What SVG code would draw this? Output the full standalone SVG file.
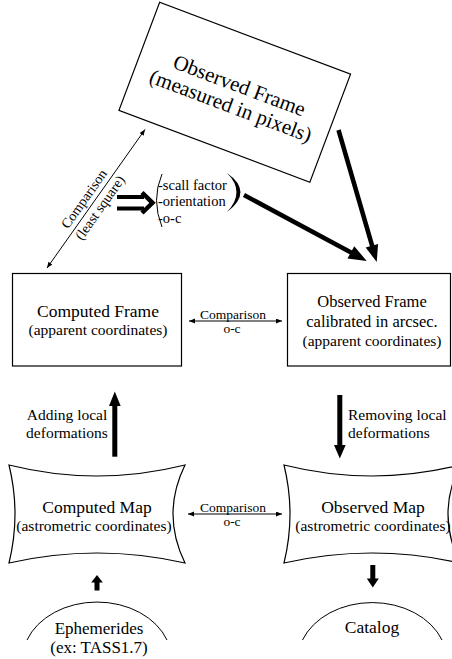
<svg xmlns="http://www.w3.org/2000/svg" width="452" height="659" viewBox="0 0 452 659" font-family="'Liberation Serif', 'DejaVu Serif', 'Times New Roman', serif">
<style>
text{font-family:'Liberation Serif','DejaVu Serif','Times New Roman',serif;fill:#000}
.t{font-size:17.5px;text-anchor:middle}
.s{font-size:15.5px;text-anchor:middle}
.c{font-size:13.5px;text-anchor:middle}
.b{font-size:14.5px}
.box{fill:#fff;stroke:#000;stroke-width:1.2}
.thin{stroke:#000;stroke-width:1;fill:none}
.thick{stroke:#000;stroke-width:4.5;fill:none}
.head{fill:#000}
</style>
<defs>
<marker id="ah" markerUnits="userSpaceOnUse" markerWidth="7" markerHeight="6" refX="6" refY="2.5" orient="auto-start-reverse">
<path d="M0,0 L6,2.5 L0,5 z" fill="#000"/>
</marker>
</defs>
<g id="observed-frame-pixels" transform="translate(234.75,92.25) rotate(20.65)">
<rect class="box" x="-102" y="-57.75" width="204" height="115.5"/>
<text x="2" y="-1" style="font-size:21px;text-anchor:middle">Observed Frame</text>
<text x="1" y="21" style="font-size:21px;text-anchor:middle">(measured in pixels)</text>
</g>
<g id="computed-frame">
<rect class="box" x="12.5" y="273.5" width="169" height="92.5"/>
<text class="t" x="98" y="317">Computed Frame</text>
<text class="s" x="98" y="335">(apparent coordinates)</text>
</g>
<g id="observed-frame-arcsec">
<rect class="box" x="287.5" y="273.5" width="163" height="92.5"/>
<text x="372" y="307" style="font-size:16.5px;text-anchor:middle">Observed Frame</text>
<text x="372" y="327" style="font-size:16.5px;text-anchor:middle">calibrated in arcsec.</text>
<text class="s" x="372" y="345.5">(apparent coordinates)</text>
</g>
<g id="computed-map">
<path class="box" d="M9,465 Q97,487 185,465 Q161,514 185,563 Q97,543 9,563 Q21,514 9,465 Z"/>
<text class="t" x="97" y="513">Computed Map</text>
<text class="s" x="94" y="531">(astrometric coordinates)</text>
</g>
<g id="observed-map">
<path class="box" d="M284,465 Q372,487 460,465 Q436,514 460,563 Q372,543 284,563 Q296,514 284,465 Z"/>
<text class="t" x="373" y="513">Observed Map</text>
<text class="s" x="373" y="531">(astrometric coordinates)</text>
</g>
<g id="ephemerides">
<path class="thin" d="M27,640 A74.6,58 0 0 1 167,640"/>
<text x="99" y="634" style="font-size:17px;text-anchor:middle">Ephemerides</text>
<text x="99" y="653" style="font-size:17px;text-anchor:middle">(ex: TASS1.7)</text>
</g>
<g id="catalog">
<path class="thin" d="M302.5,640 A74.6,58 0 0 1 442,640"/>
<text class="t" x="372" y="633">Catalog</text>
</g>
<g id="parameters">
<path class="thin" d="M162,174 Q151,200 162,227"/>
<path class="head" d="M227,173 Q254,192 227,212 Q246,192 227,173 Z"/>
<text class="b" x="158" y="189.5">-scall factor</text>
<text class="b" x="158" y="205.5">-orientation</text>
<text class="b" x="158" y="222.5">-o-c</text>
</g>
<g id="connectors">
<line class="thin" x1="145" y1="129.5" x2="47" y2="268" marker-start="url(#ah)" marker-end="url(#ah)"/>
<g transform="translate(96,198.75) rotate(-54.7)">
<text x="-7" y="-5" style="font-size:14px;text-anchor:middle">Comparison</text>
<text x="-5" y="13" style="font-size:14px;text-anchor:middle">(least square)</text>
</g>
<rect x="117" y="195" width="27" height="4" class="head"/>
<rect x="117" y="206.5" width="27" height="4" class="head"/>
<path d="M142,192.5 L152.5,202.8 L142,213" stroke="#000" stroke-width="4.5" fill="none"/>
<line class="thick" x1="244" y1="195" x2="352" y2="253"/>
<path class="head" d="M366.7,261 L347.5,258.5 L354.3,246.3 z"/>
<line class="thick" x1="338.5" y1="130" x2="372.5" y2="247"/>
<path class="head" d="M376.7,262 L365.7,247.5 L378.1,243.9 z"/>
<line class="thin" x1="189" y1="321" x2="282" y2="321" marker-start="url(#ah)" marker-end="url(#ah)"/>
<text class="c" x="233" y="318.5">Comparison</text>
<text class="c" x="232" y="333">o-c</text>
<line class="thin" x1="188" y1="514" x2="282" y2="514" marker-start="url(#ah)" marker-end="url(#ah)"/>
<text class="c" x="233" y="512">Comparison</text>
<text class="c" x="232" y="526">o-c</text>
<rect class="head" x="112.3" y="404" width="5" height="52.7"/>
<path class="head" d="M114.8,391.5 L120.7,406 L109,406 z"/>
<text class="s" x="67" y="420">Adding local</text>
<text class="s" x="67" y="437.5">deformations</text>
<rect class="head" x="337.3" y="395" width="5" height="52"/>
<path class="head" d="M339.8,458.5 L345.7,445 L334,445 z"/>
<text class="s" x="348" y="420" style="text-anchor:start">Removing local</text>
<text class="s" x="348" y="437.5" style="text-anchor:start">deformations</text>
<rect class="head" x="94.5" y="581" width="5" height="9.5"/>
<path class="head" d="M97,575 L102.8,582.5 L91.2,582.5 z"/>
<rect class="head" x="370.3" y="565" width="5" height="14"/>
<path class="head" d="M372.8,587.5 L378.8,578.5 L366.8,578.5 z"/>
</g>
</svg>
